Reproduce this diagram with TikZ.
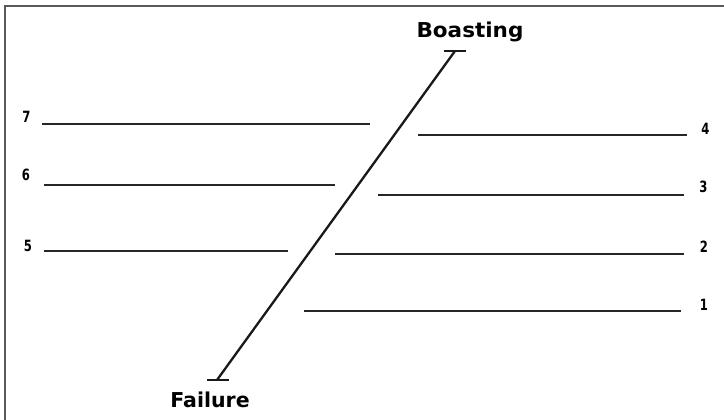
\documentclass[tikz,border=0pt]{standalone}
\usepackage{fontspec}
\usepackage{graphicx}
\newfontfamily\labelfont{DejaVu Sans}
\newcommand{\numlbl}[1]{\scalebox{0.75}[1]{#1}}
\begin{document}
\begin{tikzpicture}[x=1pt,y=-1pt,
  bigtext/.style={font=\labelfont\bfseries\fontsize{20.5}{20.5}\selectfont, anchor=base, inner sep=0pt},
  numtext/.style={font=\labelfont\bfseries\fontsize{15.5}{15.5}\selectfont, anchor=base, inner sep=0pt},
  rung/.style={line width=1.2pt, black!85},
  axis/.style={line width=2.3pt, black!90},
  frameline/.style={line width=1.6pt, black!65}]
\useasboundingbox (0,0) rectangle (724,420);
% frame (top and left only)
\coordinate (ftr) at (724,6);
\coordinate (ftl) at (5,6);
\coordinate (fbl) at (5,420);
\draw[frameline] (ftr) -- (ftl) -- (fbl);
% axis
\coordinate (top) at (455,51);
\coordinate (bot) at (217,380);
\coordinate (topl) at (444,51);
\coordinate (topr) at (466,51);
\coordinate (botl) at (207,380);
\coordinate (botr) at (229,380);
\draw[axis] (top) -- (bot);
\draw[axis] (topl) -- (topr);
\draw[axis] (botl) -- (botr);
\node[bigtext] (boast) at (470,38) {\scalebox{1.05}[1]{Boasting}};
\node[bigtext] (fail) at (210,407) {Failure};
% left rungs
\coordinate (l7a) at (42,124); \coordinate (l7b) at (370,124);
\coordinate (l6a) at (44,185); \coordinate (l6b) at (335,185);
\coordinate (l5a) at (44,251); \coordinate (l5b) at (288,251);
\draw[rung] (l7a) -- (l7b);
\draw[rung] (l6a) -- (l6b);
\draw[rung] (l5a) -- (l5b);
\node[numtext] (n7) at (26.5,123) {\numlbl{7}};
\node[numtext] (n6) at (26,180) {\numlbl{6}};
\node[numtext] (n5) at (28,251) {\numlbl{5}};
% right rungs
\coordinate (r4a) at (418,135); \coordinate (r4b) at (687,135);
\coordinate (r3a) at (378,195); \coordinate (r3b) at (684,195);
\coordinate (r2a) at (335,254); \coordinate (r2b) at (684,254);
\coordinate (r1a) at (304,311); \coordinate (r1b) at (681,311);
\draw[rung] (r4a) -- (r4b);
\draw[rung] (r3a) -- (r3b);
\draw[rung] (r2a) -- (r2b);
\draw[rung] (r1a) -- (r1b);
\node[numtext] (n4) at (705.5,135) {\numlbl{4}};
\node[numtext] (n3) at (703.5,192) {\numlbl{3}};
\node[numtext] (n2) at (704,252) {\numlbl{2}};
\node[numtext] (n1) at (704,310) {\numlbl{1}};
\end{tikzpicture}
\end{document}
